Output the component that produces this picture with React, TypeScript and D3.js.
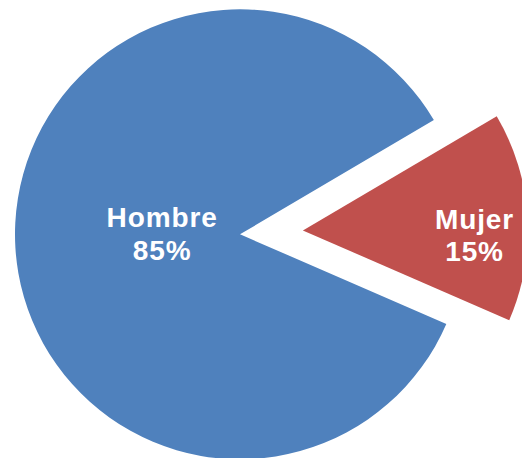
import React from "react";
import * as d3 from "d3";

const categories = ["Hombre", "Mujer"];
const values = [85, 15];
const percentLabels = ["85%", "15%"];
const colors = ["#4F81BD", "#C0504D"];

const W = 522;
const H = 458;
const cx = 240;
const cy = 234.3;
const R = 225;
const explodeDist = [0, 63];
const labelDist = [78, 235];

export default function App() {
  const pie = d3
    .pie<number>()
    .sort(null)
    .startAngle((113.5 * Math.PI) / 180)
    .endAngle((113.5 * Math.PI) / 180 + 2 * Math.PI);
  const arcs = pie(values);
  const arc = d3.arc<d3.PieArcDatum<number>>().innerRadius(0).outerRadius(R);

  return (
    <svg
      width={W}
      height={H}
      style={{ position: "absolute", left: 0, top: 0, display: "block" }}
    >
      <rect width={W} height={H} fill="#FFFFFF" />
      {arcs.map((a, i) => {
        const mid = (a.startAngle + a.endAngle) / 2;
        const ox = Math.sin(mid) * explodeDist[i];
        const oy = -Math.cos(mid) * explodeDist[i];
        return (
          <path
            key={categories[i]}
            d={arc(a) || ""}
            transform={`translate(${cx + ox},${cy + oy})`}
            fill={colors[i]}
          />
        );
      })}
      {arcs.map((a, i) => {
        const mid = (a.startAngle + a.endAngle) / 2;
        const lx = cx + Math.sin(mid) * labelDist[i];
        const base = cy - 7 + (i === 1 ? 1.5 : 0);
        return (
          <text
            key={"l" + i}
            textAnchor="middle"
            fill="#FFFFFF"
            fontFamily="'Liberation Sans', Arial, sans-serif"
            fontWeight="bold"
            fontSize={28}
            letterSpacing={0.9}
          >
            <tspan x={lx} y={base}>
              {categories[i]}
            </tspan>
            <tspan x={lx} y={base + 32.5}>
              {percentLabels[i]}
            </tspan>
          </text>
        );
      })}
    </svg>
  );
}
